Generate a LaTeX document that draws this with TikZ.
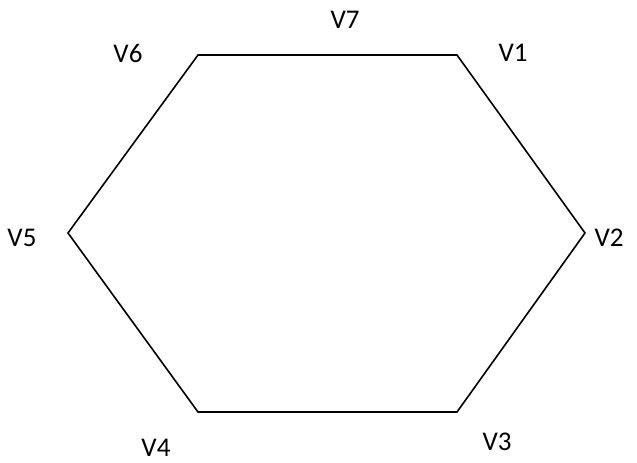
\documentclass[tikz,border=0pt]{standalone}
\usepackage{fontspec}
\setmainfont{Carlito}
\begin{document}
\begin{tikzpicture}[x=1pt,y=-1pt,
  lbl/.style={inner sep=0pt,font=\fontsize{27}{30}\selectfont},
  edge/.style={line width=1.6pt,line join=miter}]
\useasboundingbox (0,0) rectangle (637,463);
\coordinate (p6) at (198,55);
\coordinate (p1) at (457,55);
\coordinate (p2) at (585,233);
\coordinate (p3) at (457,412);
\coordinate (p4) at (198,412);
\coordinate (p5) at (68,233);
\draw[edge] (p6) -- (p1) -- (p2) -- (p3) -- (p4) -- (p5) -- cycle;
\node[lbl] (v7) at (345,20) {V7};
\node[lbl] (v6) at (128,53) {V6};
\node[lbl] (v1) at (513,53) {V1};
\node[lbl] (v5) at (22,238) {V5};
\node[lbl] (v2) at (609,238) {V2};
\node[lbl] (v3) at (497,442) {V3};
\node[lbl] (v4) at (156,448) {V4};
\end{tikzpicture}
\end{document}
